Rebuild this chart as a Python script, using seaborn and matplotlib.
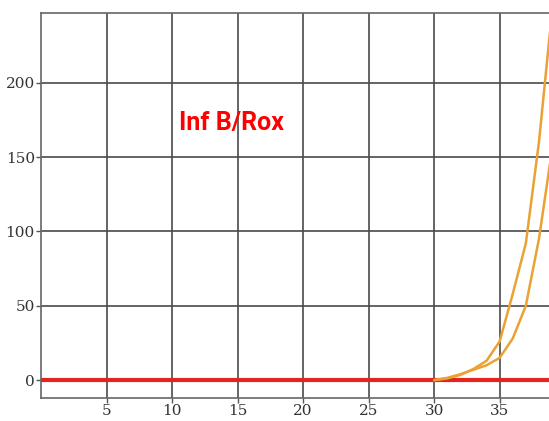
import matplotlib
matplotlib.use("Agg")
import matplotlib.pyplot as plt
import seaborn as sns
import pandas as pd

# Data
threshold_cycles = list(range(0, 41))
threshold = [0.0] * 41
curve_cycles = list(range(30, 41))
curve_a = [0, 1.2, 3.5, 7.5, 13, 26, 58, 92, 160, 248, 330]
curve_b = [0, 1.5, 4.0, 7.0, 10, 15, 28, 50, 95, 155, 230]
x_ticks = [5, 10, 15, 20, 25, 30, 35]
y_ticks = [0, 50, 100, 150, 200]
label_text = "Inf B/Rox"

sns.set_theme(style="white")
plt.rcParams['font.family'] = ['DejaVu Serif']

fig = plt.figure(figsize=(5.49, 4.21), dpi=100)
ax = fig.add_axes([41 / 549, 1 - 398 / 421, 1 - 41 / 549 + 0.002, (398 - 12.7) / 421])

df_a = pd.DataFrame({"cycle": curve_cycles, "rfu": curve_a})
df_b = pd.DataFrame({"cycle": curve_cycles, "rfu": curve_b})
df_t = pd.DataFrame({"cycle": threshold_cycles, "rfu": threshold})

sns.lineplot(data=df_t, x="cycle", y="rfu", ax=ax, color="#e5231f", linewidth=3.0, zorder=3)
sns.lineplot(data=df_a, x="cycle", y="rfu", ax=ax, color="#e9a233", linewidth=1.8, zorder=4)
sns.lineplot(data=df_b, x="cycle", y="rfu", ax=ax, color="#e9a233", linewidth=1.8, zorder=4)

ax.set_xlim(0, 38.85)
ax.set_ylim(-12, 247)
ax.set_xticks(x_ticks)
ax.set_yticks(y_ticks)
ax.set_xlabel("")
ax.set_ylabel("")

ax.grid(True, color="#4a4a4a", linewidth=1.2)
ax.set_axisbelow(True)
for s in ax.spines.values():
    s.set_color("#666666")
    s.set_linewidth(1.2)
ax.spines["right"].set_visible(False)

ax.tick_params(axis="both", which="both", length=3.5, width=1.0, color="#555555",
               labelsize=11, labelcolor="#333333", pad=1,
               bottom=True, left=True)

ax.text(10.5, 173, label_text, color="#ff0000", fontsize=18, fontweight="bold",
        family=["Roboto", "DejaVu Sans"], va="center", ha="left")

fig.savefig("out.png", dpi=100)
